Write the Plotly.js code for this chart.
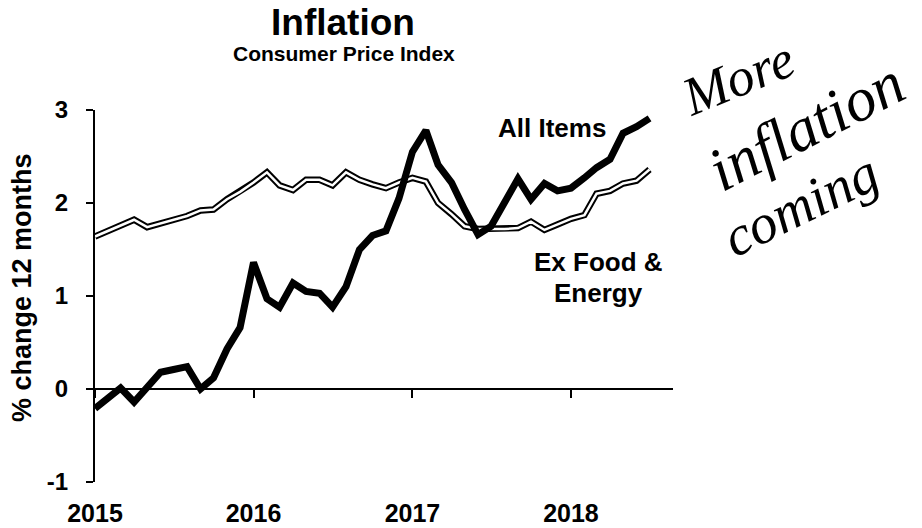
<!DOCTYPE html>
<html>
<head>
<meta charset="utf-8">
<script src="https://cdn.plot.ly/plotly-3.0.1.min.js"></script>
<style>
  html, body { margin: 0; padding: 0; background: #fff; }
  #chart { width: 922px; height: 528px; }
</style>
</head>
<body>
<div id="chart"></div>
<script>
// Months (first of month), Jan 2015 .. Jul 2018
const months = [
  '2015-01-01','2015-02-01','2015-03-01','2015-04-01','2015-05-01','2015-06-01',
  '2015-07-01','2015-08-01','2015-09-01','2015-10-01','2015-11-01','2015-12-01',
  '2016-01-01','2016-02-01','2016-03-01','2016-04-01','2016-05-01','2016-06-01',
  '2016-07-01','2016-08-01','2016-09-01','2016-10-01','2016-11-01','2016-12-01',
  '2017-01-01','2017-02-01','2017-03-01','2017-04-01','2017-05-01','2017-06-01',
  '2017-07-01','2017-08-01','2017-09-01','2017-10-01','2017-11-01','2017-12-01',
  '2018-01-01','2018-02-01','2018-03-01','2018-04-01','2018-05-01','2018-06-01',
  '2018-07-01'
];

// CPI, % change over 12 months
const allItems = [
  -0.21, -0.10, 0.01, -0.14, 0.02, 0.18, 0.21, 0.24, 0.00, 0.12, 0.43, 0.66,
  1.36, 0.97, 0.88, 1.14, 1.05, 1.03, 0.88, 1.10, 1.50, 1.65, 1.70, 2.05,
  2.55, 2.78, 2.41, 2.22, 1.93, 1.66, 1.75, 2.00, 2.26, 2.04, 2.21, 2.13,
  2.16, 2.27, 2.38, 2.47, 2.75, 2.82, 2.91
];
const exFoodEnergy = [
  1.64, 1.70, 1.76, 1.82, 1.74, 1.78, 1.82, 1.86, 1.92, 1.93, 2.04, 2.12,
  2.22, 2.33, 2.19, 2.14, 2.25, 2.25, 2.19, 2.33, 2.25, 2.20, 2.16, 2.22,
  2.27, 2.23, 2.00, 1.88, 1.75, 1.72, 1.72, 1.72, 1.73, 1.80, 1.71, 1.77,
  1.83, 1.87, 2.10, 2.13, 2.21, 2.24, 2.36
];

const yTicks = [-1, 0, 1, 2, 3];
const xTickVals = ['2015-01-01', '2016-01-01', '2017-01-01', '2018-01-01'];
const xTickText = ['2015', '2016', '2017', '2018'];

const FONT = 'Liberation Sans, Arial, Helvetica, sans-serif';
const HAND = 'Liberation Serif, DejaVu Serif, serif';

const traces = [
  { x: months, y: exFoodEnergy, type: 'scatter', mode: 'lines',
    line: { color: '#000', width: 6.5 }, xaxis: 'x', yaxis: 'y', hoverinfo: 'skip' },
  { x: months, y: exFoodEnergy, type: 'scatter', mode: 'lines',
    line: { color: '#fff', width: 2.5 }, xaxis: 'x', yaxis: 'y', hoverinfo: 'skip' },
  { x: months, y: allItems, type: 'scatter', mode: 'lines',
    line: { color: '#000', width: 7 }, xaxis: 'x2', yaxis: 'y', hoverinfo: 'skip' }
];

const L = 95, R = 673, T = 110, B = 482;
const px = v => (v - L) / (R - L);
const py = v => (B - v) / (B - T);

const layout = {
  width: 922, height: 528,
  margin: { l: L, r: 922 - R, t: T, b: 528 - B, pad: 0 },
  paper_bgcolor: '#fff', plot_bgcolor: '#fff',
  showlegend: false,
  font: { family: FONT, color: '#000' },
  xaxis: {
    type: 'date', range: ['2015-01-01', '2018-08-24'],
    tickvals: xTickVals, ticktext: xTickText,
    showline: false, showgrid: false, zeroline: false, ticks: '',
    ticklabelstandoff: 14,
    tickfont: { family: FONT, size: 25, color: '#000', weight: 'bold' },
    fixedrange: true
  },
  xaxis2: {
    type: 'date', overlaying: 'x', matches: 'x', anchor: 'free', position: 0.25,
    tickvals: xTickVals, showticklabels: false,
    showline: true, linecolor: '#000', linewidth: 2,
    ticks: 'outside', ticklen: 8, tickwidth: 2, tickcolor: '#000',
    showgrid: false, zeroline: false, fixedrange: true
  },
  yaxis: {
    range: [-1, 3], tickvals: yTicks, ticktext: yTicks.map(String),
    showline: true, linecolor: '#000', linewidth: 2,
    ticks: 'outside', ticklen: 7, tickwidth: 2, tickcolor: '#000',
    ticklabelstandoff: 13,
    showgrid: false, zeroline: false,
    tickfont: { family: FONT, size: 24, color: '#000', weight: 'bold' },
    fixedrange: true
  },
  annotations: [
    { text: '<b>Inflation</b>', xref: 'paper', yref: 'paper', x: px(343), y: py(22),
      showarrow: false, xanchor: 'center', yanchor: 'middle',
      font: { family: FONT, size: 37, color: '#000' } },
    { text: '<b>Consumer Price Index</b>', xref: 'paper', yref: 'paper', x: px(344), y: py(54),
      showarrow: false, xanchor: 'center', yanchor: 'middle',
      font: { family: FONT, size: 21, color: '#000' } },
    { text: '<b>% change 12 months</b>', xref: 'paper', yref: 'paper', x: px(22), y: py(288),
      showarrow: false, xanchor: 'center', yanchor: 'middle', textangle: -90,
      font: { family: FONT, size: 27, color: '#000' } },
    { text: '<b>All Items</b>', xref: 'paper', yref: 'paper', x: px(552), y: py(128),
      showarrow: false, xanchor: 'center', yanchor: 'middle',
      font: { family: FONT, size: 26, color: '#000' } },
    { text: '<b>Ex Food &amp;</b>', xref: 'paper', yref: 'paper', x: px(598), y: py(262),
      showarrow: false, xanchor: 'center', yanchor: 'middle',
      font: { family: FONT, size: 26, color: '#000' } },
    { text: '<b>Energy</b>', xref: 'paper', yref: 'paper', x: px(598), y: py(293),
      showarrow: false, xanchor: 'center', yanchor: 'middle',
      font: { family: FONT, size: 26, color: '#000' } },
    { text: '<i>More</i>', xref: 'paper', yref: 'paper', x: px(738), y: py(78),
      showarrow: false, xanchor: 'center', yanchor: 'middle', textangle: -22,
      font: { family: HAND, size: 54, color: '#000' } },
    { text: '<i>inflation</i>', xref: 'paper', yref: 'paper', x: px(806), y: py(126),
      showarrow: false, xanchor: 'center', yanchor: 'middle', textangle: -27,
      font: { family: HAND, size: 62, color: '#000' } },
    { text: '<i>coming</i>', xref: 'paper', yref: 'paper', x: px(800), y: py(205),
      showarrow: false, xanchor: 'center', yanchor: 'middle', textangle: -26,
      font: { family: HAND, size: 56, color: '#000' } }
  ]
};

Plotly.newPlot('chart', traces, layout, { staticPlot: true, displayModeBar: false });
</script>
</body>
</html>
